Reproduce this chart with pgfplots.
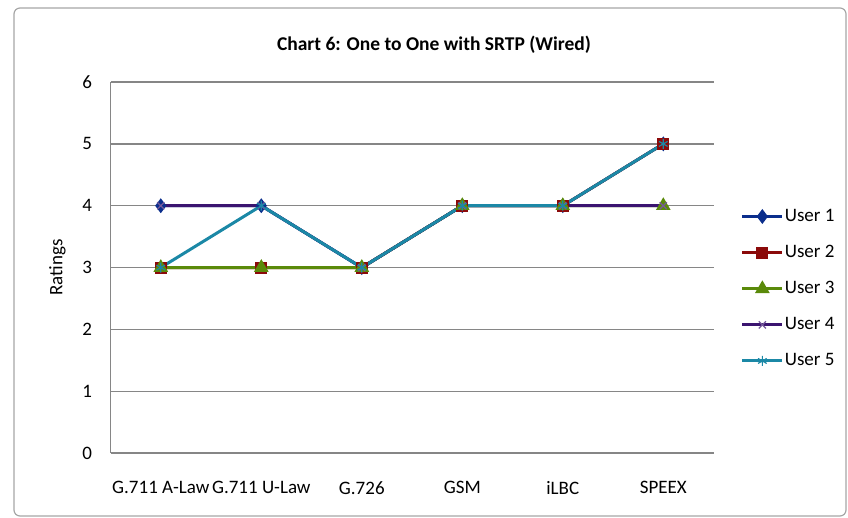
\documentclass[border=0pt]{standalone}
\usepackage{fontspec}
\setmainfont{Carlito}
\usepackage{pgfplots}
\pgfplotsset{compat=1.18}
\definecolor{uone}{HTML}{0B2E8C}
\definecolor{utwo}{HTML}{8B0A0A}
\definecolor{uthree}{HTML}{5A8A0A}
\definecolor{ufour}{HTML}{3B1470}
\definecolor{ufive}{HTML}{1B88A6}
\definecolor{gridc}{HTML}{868686}
\begin{document}
\begin{tikzpicture}[x=1pt,y=1pt]
\fontsize{19}{23}\selectfont
\useasboundingbox (0,0) rectangle (848,518);
\draw[gray!70, line width=1.2, rounded corners=6] (14,2) rectangle (846,510);
\node[font=\fontsize{19.5}{23}\selectfont\bfseries] at (434,473) {Chart 6: One to One with SRTP (Wired)};
\begin{axis}[at={(110,105)}, anchor=south west, scale only axis,
  width=603pt, height=371pt,
  xmin=-0.5, xmax=5.5, ymin=0, ymax=6,
  xtick={0,...,5},
  xticklabels={G.711 A-Law, G.711 U-Law, G.726, GSM, iLBC, SPEEX},
  ytick={0,...,6},
  ymajorgrids, grid style={gridc, line width=1.2pt},
  axis x line=bottom, axis y line=left,
  axis line style={-, gridc, line width=1.2pt},
  major tick length=0pt,
  tick label style={font=\fontsize{19}{23}\selectfont},
  /pgf/number format/assume math mode=true,
  xticklabel style={yshift=-22pt},
  yticklabel style={xshift=-12pt},
  ylabel={Ratings},
  ylabel style={at={(axis description cs:-0.088,0.5)}, anchor=center, font=\fontsize{19}{23}\selectfont},
  legend style={at={(rel axis cs:1.04,0.443)}, anchor=west, draw=none, fill=none,
    font=\fontsize{19}{23}\selectfont, row sep=19pt, nodes={inner sep=1pt}},
  legend cell align=left,
  legend image code/.code={\draw[mark repeat=2,mark phase=2,#1] plot coordinates {(0pt,0pt) (20pt,0pt) (40pt,0pt)};},
  every axis plot/.append style={line width=3pt},
  clip=false,
]
\addplot[uone, mark=diamond*, mark size=5pt, mark options={solid}] coordinates {(0,4) (1,4) (2,3) (3,4) (4,4) (5,5)};
\addlegendentry{User 1}
\addplot[utwo, mark=square*, mark size=4.5pt, mark options={solid}] coordinates {(0,3) (1,3) (2,3) (3,4) (4,4) (5,5)};
\addlegendentry{User 2}
\addplot[uthree, mark=triangle*, mark size=5.5pt, mark options={solid}] coordinates {(0,3) (1,3) (2,3) (3,4) (4,4) (5,4)};
\addlegendentry{User 3}
\addplot[ufour, mark=x, mark size=5pt, mark options={solid, line width=1.2pt, draw=ufour!70}] coordinates {(0,4) (1,4) (2,3) (3,4) (4,4) (5,4)};
\addlegendentry{User 4}
\addplot[ufive, mark=asterisk, mark size=5pt, mark options={solid, line width=1.2pt}] coordinates {(0,3) (1,4) (2,3) (3,4) (4,4) (5,5)};
\addlegendentry{User 5}
\end{axis}
\end{tikzpicture}
\end{document}
